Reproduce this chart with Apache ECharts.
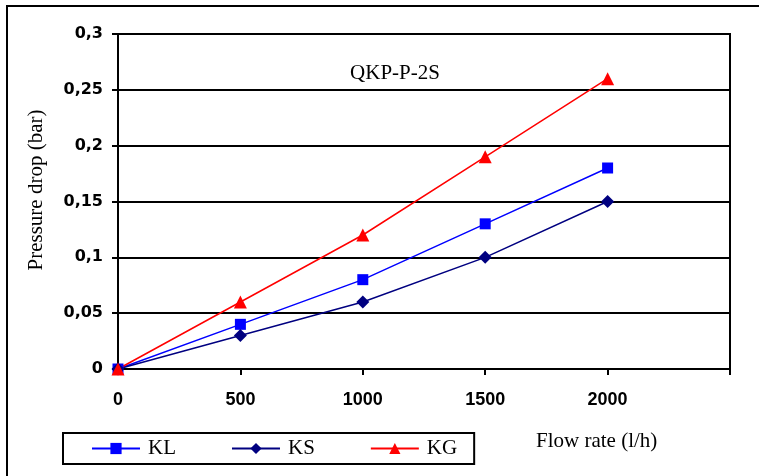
<!DOCTYPE html>
<html>
<head>
<meta charset="utf-8">
<script src="https://cdn.jsdelivr.net/npm/echarts@6/dist/echarts.min.js"></script>
<style>html,body{margin:0;padding:0;background:#fff;}#c{width:759px;height:476px;}</style>
</head>
<body>
<div id="c"></div>
<script>
const flowRates = [0, 500, 1000, 1500, 2000];
const seriesNames = ['KL', 'KS', 'KG'];
const klValues = [0, 0.04, 0.08, 0.13, 0.18];
const ksValues = [0, 0.03, 0.06, 0.10, 0.15];
const kgValues = [0, 0.06, 0.12, 0.19, 0.26];
const chartTitle = 'QKP-P-2S';
const yAxisTitle = 'Pressure drop (bar)';
const xAxisTitle = 'Flow rate (l/h)';

const pairs = vals => flowRates.map((x, i) => [x, vals[i]]);
const serif = '"Liberation Serif", "DejaVu Serif", serif';
const sans = '"DejaVu Sans", sans-serif';

const chart = echarts.init(document.getElementById('c'), null, {renderer: 'canvas'});
chart.setOption({
  backgroundColor: '#fff',
  animation: false,
  title: {
    text: chartTitle, left: 390, top: 58, textAlign: 'center',
    textStyle: {fontFamily: serif, fontSize: 21, fontWeight: 'normal', color: '#000'}
  },
  grid: {left: 118, top: 34, width: 612, height: 335, show: true, borderColor: '#000', borderWidth: 2, backgroundColor: 'transparent'},
  legend: {
    left: 63, top: 433, orient: 'horizontal',
    data: seriesNames,
    itemWidth: 48, itemHeight: 14, itemGap: 55,
    borderColor: '#000', borderWidth: 2, padding: [4, 17, 4, 28],
    textStyle: {fontFamily: serif, fontSize: 21, lineHeight: 23, color: '#000', padding: [0, 0, 0, 3]}
  },
  xAxis: {
    type: 'value', min: 0, max: 2500, interval: 500,
    axisLine: {show: true, lineStyle: {color: '#000', width: 2}},
    axisTick: {show: true, length: 6, lineStyle: {color: '#000', width: 2}},
    splitLine: {show: false},
    axisLabel: {margin: 22, fontFamily: '"Liberation Sans", Arial, sans-serif', fontWeight: 'bold', fontSize: 18, color: '#000',
      formatter: v => (v >= 2500 ? '' : String(v))}
  },
  yAxis: {
    type: 'value', min: 0, max: 0.3, interval: 0.05,
    axisLine: {show: true, lineStyle: {color: '#000', width: 2}},
    axisTick: {show: true, length: 6, lineStyle: {color: '#000', width: 2}},
    splitLine: {show: true, lineStyle: {color: '#000', width: 2}},
    axisLabel: {margin: 15, fontFamily: sans, fontWeight: 'bold', fontSize: 16, color: '#000',
      formatter: v => String(+v.toFixed(2)).replace('.', ',')}
  },
  graphic: [
    {type: 'rect', shape: {x: 7, y: 6, width: 800, height: 520}, style: {fill: 'none', stroke: '#000', lineWidth: 2}, silent: true, z: 100},
    {type: 'text', x: 36, y: 190, rotation: Math.PI / 2,
      style: {text: yAxisTitle, font: '21px ' + serif, fill: '#000', textAlign: 'center', textVerticalAlign: 'middle'}},
    {type: 'text', left: 536, top: 431, style: {text: xAxisTitle, font: '21px ' + serif, fill: '#000'}}
  ],
  series: [
    {name: 'KL', type: 'line', data: pairs(klValues), symbol: 'rect', symbolSize: 11,
      lineStyle: {color: '#0000FF', width: 1.5}, itemStyle: {color: '#0000FF'}},
    {name: 'KS', type: 'line', data: pairs(ksValues), symbol: 'diamond', symbolSize: 13,
      lineStyle: {color: '#000080', width: 1.5}, itemStyle: {color: '#000080'}},
    {name: 'KG', type: 'line', data: pairs(kgValues), symbol: 'triangle', symbolSize: 13,
      lineStyle: {color: '#FF0000', width: 1.5}, itemStyle: {color: '#FF0000'}}
  ]
});
</script>
</body>
</html>
